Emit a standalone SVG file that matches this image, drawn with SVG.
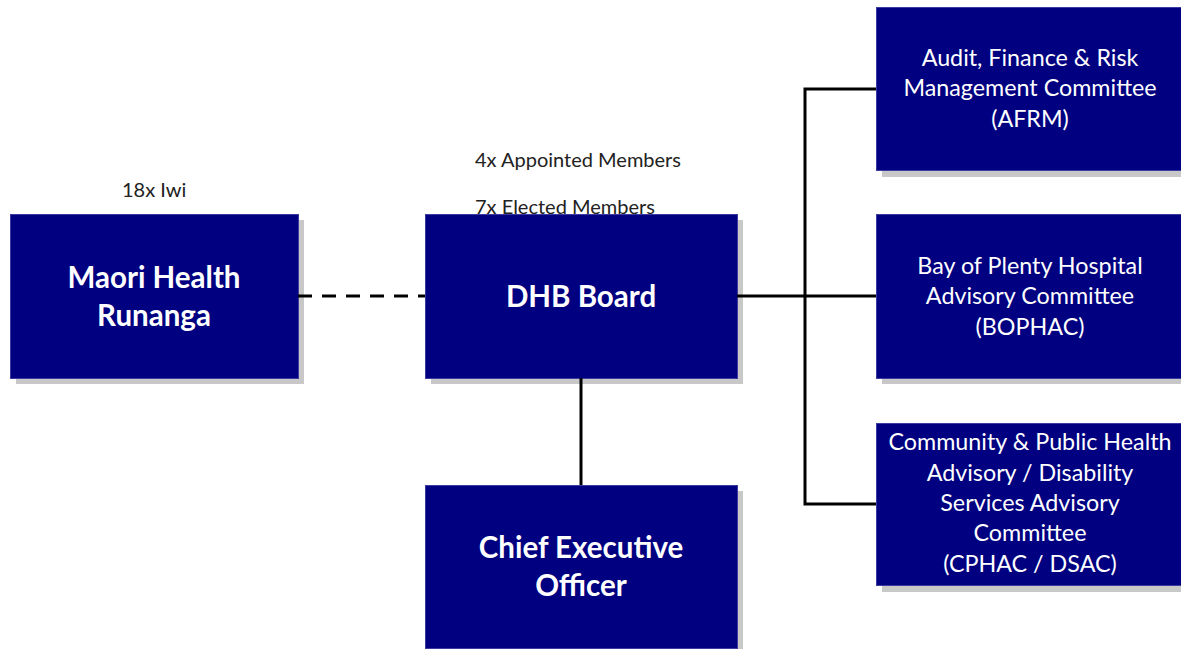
<svg xmlns="http://www.w3.org/2000/svg" width="1181" height="649" viewBox="0 0 1181 649">
<style>
.box{fill:#000080;stroke:#3a3aa0;stroke-width:1}
.shadow{fill:#c8c8c8}
.t{font-family:Lato,"Open Sans","Liberation Sans",sans-serif;fill:#ffffff;text-anchor:middle}
.tb{font-weight:bold;font-size:29.5px}
.tr{font-size:23.3px}
.note{font-family:Lato,"Open Sans","Liberation Sans",sans-serif;font-size:20px;fill:#222222}
.line{stroke:#000000;stroke-width:3;fill:none}
</style>
<rect width="1181" height="649" fill="#ffffff"/>
<text class="note" x="122" y="197">18x Iwi</text>
<text class="note" x="475" y="167">4x Appointed Members</text>
<text class="note" x="475" y="214">7x Elected Members</text>
<g id="maori">
<rect class="shadow" x="16" y="220" width="288" height="164"/>
<rect class="box" x="10.5" y="214.5" width="288" height="164"/>
<text class="t tb" x="154" y="288">Maori Health</text>
<text class="t tb" x="154" y="326">Runanga</text>
</g>
<g id="dhb">
<rect class="shadow" x="431" y="220" width="312" height="164"/>
<rect class="box" x="425.5" y="214.5" width="312" height="164"/>
<text class="t tb" x="581" y="307">DHB Board</text>
</g>
<g id="ceo">
<rect class="shadow" x="431" y="491" width="312" height="164"/>
<rect class="box" x="425.5" y="485.5" width="312" height="163"/>
<text class="t tb" x="581" y="558">Chief Executive</text>
<text class="t tb" x="581" y="596">Officer</text>
</g>
<g id="afrm">
<rect class="shadow" x="882" y="13" width="312" height="164"/>
<rect class="box" x="876.5" y="7.5" width="312" height="163"/>
<text class="t tr" x="1030" y="66">Audit, Finance &amp; Risk</text>
<text class="t tr" x="1030" y="96">Management Committee</text>
<text class="t tr" x="1030" y="127">(AFRM)</text>
</g>
<g id="bophac">
<rect class="shadow" x="882" y="220" width="312" height="164"/>
<rect class="box" x="876.5" y="214.5" width="312" height="164"/>
<text class="t tr" x="1030" y="274">Bay of Plenty Hospital</text>
<text class="t tr" x="1030" y="304">Advisory Committee</text>
<text class="t tr" x="1030" y="335">(BOPHAC)</text>
</g>
<g id="cphac">
<rect class="shadow" x="882" y="429" width="312" height="163"/>
<rect class="box" x="876.5" y="423.5" width="312" height="162"/>
<text class="t tr" x="1030" y="450">Community &amp; Public Health</text>
<text class="t tr" x="1030" y="481">Advisory / Disability</text>
<text class="t tr" x="1030" y="511">Services Advisory</text>
<text class="t tr" x="1030" y="541">Committee</text>
<text class="t tr" x="1030" y="572">(CPHAC / DSAC)</text>
</g>
<g id="connectors">
<line class="line" x1="298" y1="296" x2="425" y2="296" stroke-dasharray="14,10"/>
<line class="line" x1="737" y1="296" x2="876" y2="296"/>
<polyline class="line" points="876,89 805,89 805,504 876,504"/>
<line class="line" x1="581" y1="378" x2="581" y2="485"/>
</g>
</svg>
